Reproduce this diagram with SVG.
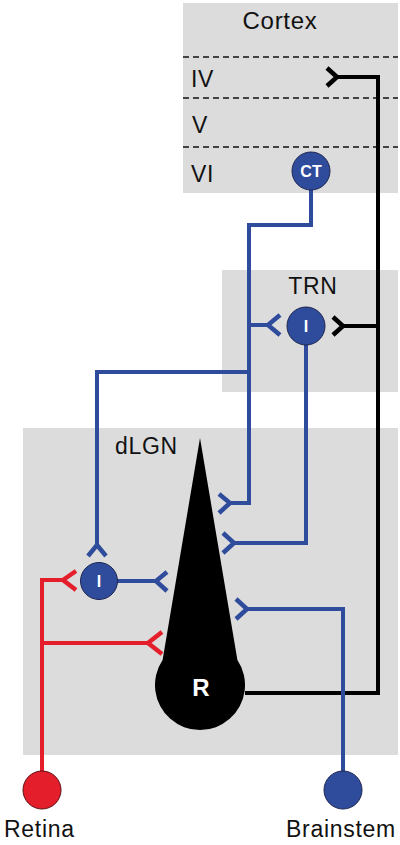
<svg xmlns="http://www.w3.org/2000/svg" width="400" height="845" viewBox="0 0 400 845">
<style>
.box{fill:#dcdcdc}
.lbl{font-family:"Liberation Sans",Arial,sans-serif;font-size:23px;fill:#111;letter-spacing:0.7px}
.dash{stroke:#111;stroke-width:1.5;stroke-dasharray:6 4;fill:none}
.b{stroke:#2f4c9c;stroke-width:4;fill:none;stroke-linejoin:miter}
.k{stroke:#000;stroke-width:4;fill:none;stroke-linejoin:miter}
.r{stroke:#e41e2b;stroke-width:4;fill:none;stroke-linejoin:miter}
.fk{stroke-width:4.5}
.nb{fill:#2f4c9c;stroke:#1c2550;stroke-width:1}
.nr{fill:#e41e2b;stroke:#5a1015;stroke-width:1}
.in{font-family:"Liberation Sans",Arial,sans-serif;font-weight:bold;fill:#fff;text-anchor:middle}
</style>
<g id="cortex">
<rect class="box" x="183" y="3" width="215" height="190"/>
<line class="dash" x1="183" y1="57" x2="398" y2="57"/>
<line class="dash" x1="183" y1="98" x2="398" y2="98"/>
<line class="dash" x1="183" y1="147" x2="398" y2="147"/>
<text class="lbl" x="280" y="29" text-anchor="middle" style="font-size:24px">Cortex</text>
<text class="lbl" x="191" y="87">IV</text>
<text class="lbl" x="192" y="133">V</text>
<text class="lbl" x="191" y="182">VI</text>
</g>
<g id="trn">
<rect class="box" x="222" y="270" width="176" height="122"/>
<text class="lbl" x="313" y="294" text-anchor="middle">TRN</text>
</g>
<g id="dlgn">
<rect class="box" x="23" y="428" width="375" height="327"/>
<text class="lbl" x="115" y="454">dLGN</text>
</g>
<g id="connectors">
<path class="k" d="M245,693 H378 V77 H337"/>
<path class="k fk" d="M327,68 L337,77 L327,86"/>
<path class="k" d="M378,326 H343"/>
<path class="k fk" d="M333,317 L343,326 L333,335"/>
<path class="b" d="M311,189 V225 H249 V503 H230"/>
<path class="b fk" d="M219,494 L230,503 L219,513"/>
<path class="b" d="M249,325 H268"/>
<path class="b fk" d="M280,315 L268,325 L280,335"/>
<path class="b" d="M306,344 V543 H234"/>
<path class="b fk" d="M223,533 L234,543 L223,553"/>
<path class="b" d="M249,372 H97 V545"/>
<path class="b fk" d="M88,556 L97,545 L106,556"/>
<path class="b" d="M117,581 H156"/>
<path class="b fk" d="M167,572 L156,581 L167,591"/>
<path class="b" d="M343,771 V609 H247"/>
<path class="b fk" d="M236,599 L247,609 L236,619"/>
<path class="r" d="M42,771 V580 H63"/>
<path class="r fk" d="M76,571 L63,580 L76,590"/>
<path class="r" d="M42,643 H148"/>
<path class="r fk" d="M162,632 L148,643 L162,654"/>
</g>
<g id="ct-neuron">
<circle class="nb" cx="311" cy="171" r="19"/>
<text class="in" x="311" y="177" style="font-size:16px">CT</text>
</g>
<g id="trn-interneuron">
<circle class="nb" cx="306" cy="326" r="19"/>
<text class="in" x="306" y="332" style="font-size:16px">I</text>
</g>
<g id="dlgn-interneuron">
<circle class="nb" cx="99" cy="581" r="18.5"/>
<text class="in" x="99" y="587" style="font-size:16px">I</text>
</g>
<g id="relay-neuron">
<path d="M200,438 L162.6,660 A45,45 0 1 0 237.4,660 Z" fill="#000"/>
<text class="in" x="201" y="696" style="font-size:24px">R</text>
</g>
<g id="retina">
<circle class="nr" cx="42" cy="790" r="19"/>
<text class="lbl" x="4" y="837">Retina</text>
</g>
<g id="brainstem">
<circle class="nb" cx="343" cy="790" r="19"/>
<text class="lbl" x="286" y="837">Brainstem</text>
</g>
</svg>
